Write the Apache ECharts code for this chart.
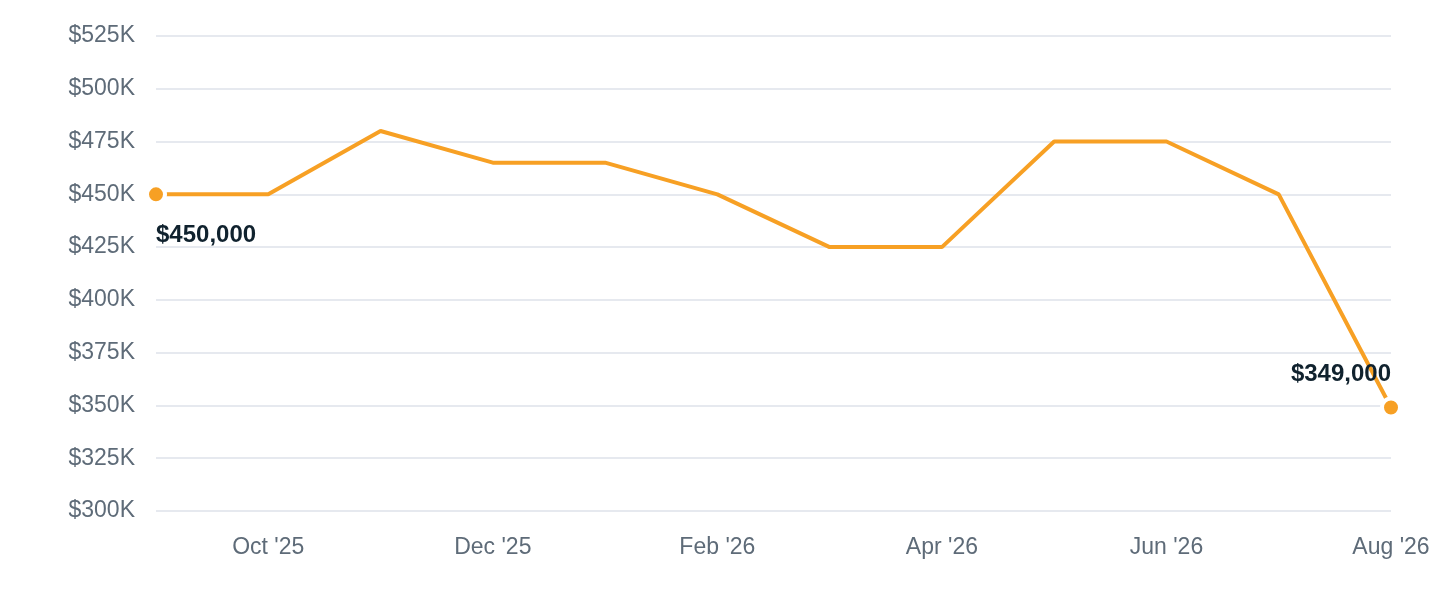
<!DOCTYPE html>
<html>
<head>
<meta charset="utf-8">
<title>Median price</title>
<script src="https://cdn.jsdelivr.net/npm/echarts@6/dist/echarts.min.js"></script>
<style>
    html, body { margin: 0; padding: 0; background: #fff; }
    #chart { width: 1440px; height: 600px; }
</style>
</head>
<body>
<div id="chart"></div>
<script>
// monthly points, Sep '25 .. Aug '26
const months = ['Sep \'25', 'Oct \'25', 'Nov \'25', 'Dec \'25', 'Jan \'26', 'Feb \'26',
    'Mar \'26', 'Apr \'26', 'May \'26', 'Jun \'26', 'Jul \'26', 'Aug \'26'];
const prices = [450000, 450000, 480000, 465000, 465000, 450000,
    425000, 425000, 475000, 475000, 450000, 349000];
const yMin = 300000;
const yMax = 525000;
const yStep = 25000;

const orange = '#F7A024';
const labelFont = 'Helvetica Neue, Helvetica, Arial, Liberation Sans, sans-serif';

function money(v) {
    return '$' + v.toLocaleString('en-US');
}

// only the first and last points get a dot and a value label
const seriesData = prices.map(function (v, i) {
    const item = {value: v};
    if (i === 0 || i === prices.length - 1) {
        const first = i === 0;
        item.symbol = 'circle';
        item.symbolSize = 18;
        item.itemStyle = {color: orange, borderColor: '#fff', borderWidth: 4};
        item.label = {
            show: true,
            formatter: money(v),
            position: first ? 'bottom' : 'top',
            align: first ? 'left' : 'right',
            distance: first ? 18 : 10,
            color: '#10222E',
            fontSize: 24,
            fontWeight: 'bold',
            fontFamily: labelFont
        };
    }
    return item;
});

const chart = echarts.init(document.getElementById('chart'));
chart.setOption({
    animation: false,
    grid: {left: 156, right: 49, top: 36, bottom: 89},
    xAxis: {
        type: 'category',
        data: months,
        boundaryGap: false,
        axisLine: {show: false},
        axisTick: {show: false},
        axisLabel: {
            interval: function (index) { return index % 2 === 1; },
            margin: 25,
            color: '#5E6B78',
            fontSize: 23,
            fontFamily: labelFont
        },
        splitLine: {show: false}
    },
    yAxis: {
        type: 'value',
        min: yMin,
        max: yMax,
        interval: yStep,
        axisLine: {show: false},
        axisTick: {show: false},
        axisLabel: {
            margin: 21,
            color: '#5E6B78',
            fontSize: 23,
            fontFamily: labelFont,
            formatter: function (v) { return '$' + (v / 1000) + 'K'; }
        },
        splitLine: {lineStyle: {color: '#E6E9EF', width: 2}}
    },
    series: [{
        type: 'line',
        data: seriesData,
        symbol: 'none',
        showSymbol: true,
        lineStyle: {color: orange, width: 4},
        itemStyle: {color: orange},
        z: 3
    }]
});
</script>
</body>
</html>
